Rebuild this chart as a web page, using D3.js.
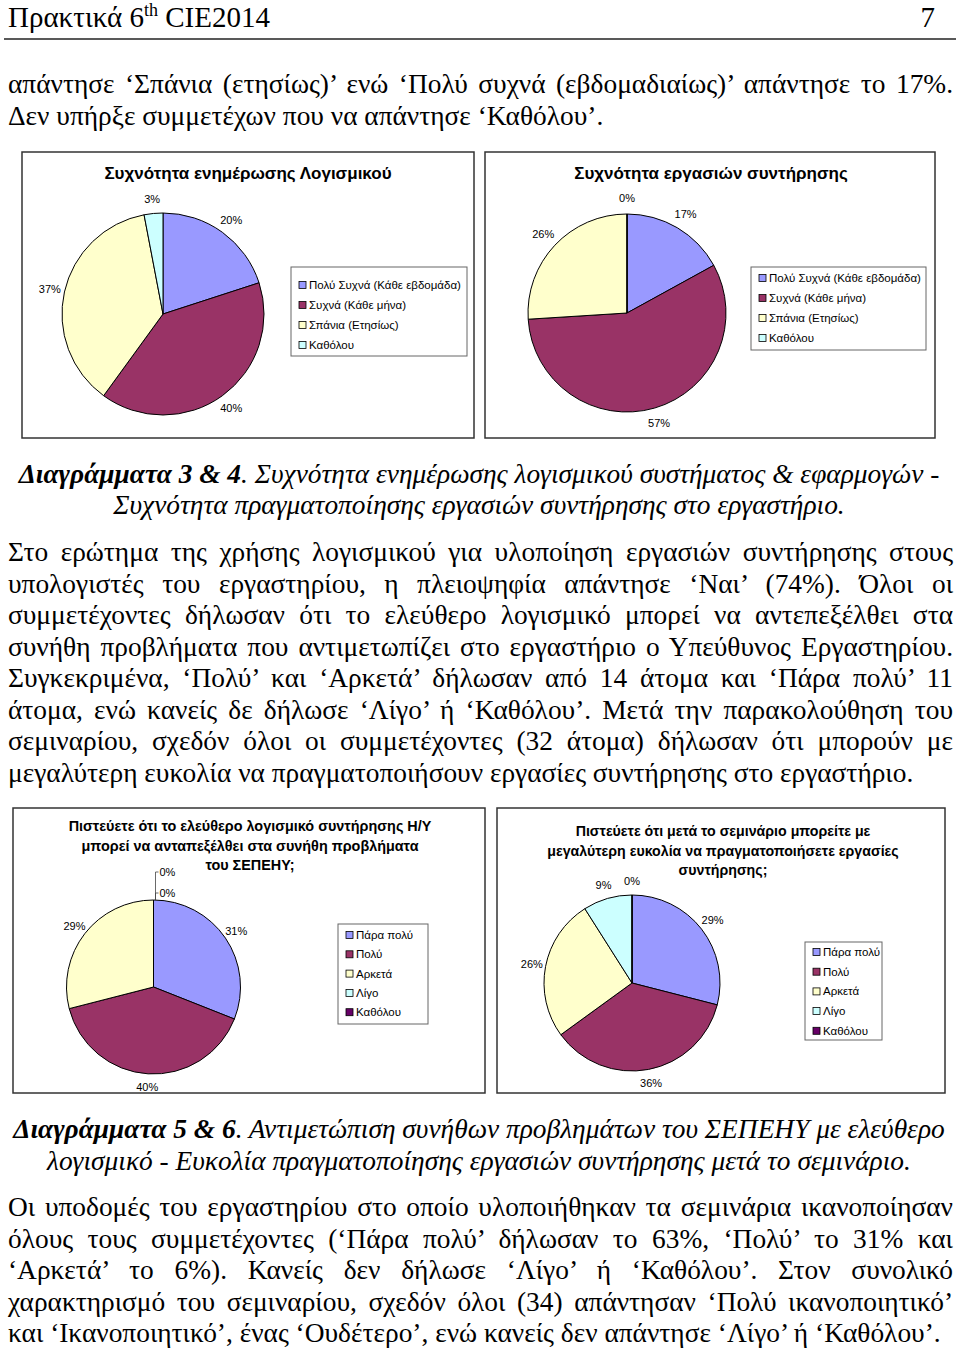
<!DOCTYPE html>
<html>
<head>
<meta charset="utf-8">
<script src="https://cdn.jsdelivr.net/npm/d3@7/dist/d3.min.js"></script>
<style>
  body { margin: 0; background: #fff; }
</style>
</head>
<body>
<script>
// chart data read from the page
const freqLabels = ['Πολύ Συχνά (Κάθε εβδομάδα)', 'Συχνά (Κάθε μήνα)', 'Σπάνια (Ετησίως)', 'Καθόλου'];
const updateValues = [20, 40, 37, 3];
const maintValues = [17, 57, 26, 0];
const agreeLabels = ['Πάρα πολύ', 'Πολύ', 'Αρκετά', 'Λίγο', 'Καθόλου'];
const freeSwValues = [31, 40, 29, 0, 0];
const easeValues = [29, 36, 26, 9, 0];
const sliceColors = ['#9999ff', '#993366', '#ffffcc', '#ccffff', '#660066'];

const serif = '"Liberation Serif", "Times New Roman", serif';
const sans = '"Liberation Sans", Arial, sans-serif';
const bodySize = 27.4;

const svg = d3.select('body').append('svg')
  .attr('width', 960)
  .attr('height', 1352)
  .style('display', 'block')
  .style('background', '#fff');

// ---- page header
const head = svg.append('text')
  .attr('x', 8).attr('y', 27)
  .style('font-family', serif).style('font-size', '29px');
head.append('tspan').text('Πρακτικά 6');
head.append('tspan').attr('dy', -11).style('font-size', '18px').text('th');
head.append('tspan').attr('dy', 11).text(' CIE2014');
svg.append('text')
  .attr('x', 935).attr('y', 27).attr('text-anchor', 'end')
  .style('font-family', serif).style('font-size', '29px').text('7');
svg.append('line')
  .attr('x1', 4).attr('x2', 956).attr('y1', 39).attr('y2', 39)
  .attr('stroke', '#222').attr('stroke-width', 1.6);

// ---- body text helpers
function bodyLine(str, y, justify) {
  const t = svg.append('text')
    .attr('x', 8).attr('y', y)
    .style('font-family', serif).style('font-size', bodySize + 'px')
    .text(str);
  if (justify) {
    const natural = t.node().getComputedTextLength();
    const gaps = str.split(' ').length - 1;
    const extra = (945 - natural) / gaps;
    if (extra >= 0) t.style('word-spacing', extra + 'px');
    else t.attr('textLength', 945).attr('lengthAdjust', 'spacingAndGlyphs');
  }
}

function caption(boldPart, rest, y) {
  const t = svg.append('text')
    .attr('x', 479).attr('y', y).attr('text-anchor', 'middle')
    .style('font-family', serif).style('font-size', bodySize + 'px').style('font-style', 'italic');
  if (boldPart) t.append('tspan').style('font-weight', 'bold').text(boldPart);
  t.append('tspan').text(rest);
}

function paragraph(lines, y0) {
  lines.forEach((l, i) => bodyLine(l, y0 + i * 31.5, i < lines.length - 1));
}

paragraph([
  'απάντησε ‘Σπάνια (ετησίως)’ ενώ ‘Πολύ συχνά (εβδομαδιαίως)’ απάντησε το 17%.',
  'Δεν υπήρξε συμμετέχων που να απάντησε ‘Καθόλου’.'
], 93);

caption('Διαγράμματα 3 & 4', '. Συχνότητα ενημέρωσης λογισμικού συστήματος & εφαρμογών -', 483);
caption('', 'Συχνότητα πραγματοποίησης εργασιών συντήρησης στο εργαστήριο.', 514);

paragraph([
  'Στο ερώτημα της χρήσης λογισμικού για υλοποίηση εργασιών συντήρησης στους',
  'υπολογιστές του εργαστηρίου, η πλειοψηφία απάντησε ‘Ναι’ (74%). Όλοι οι',
  'συμμετέχοντες δήλωσαν ότι το ελεύθερο λογισμικό μπορεί να αντεπεξέλθει στα',
  'συνήθη προβλήματα που αντιμετωπίζει στο εργαστήριο ο Υπεύθυνος Εργαστηρίου.',
  'Συγκεκριμένα, ‘Πολύ’ και ‘Αρκετά’ δήλωσαν από 14 άτομα και ‘Πάρα πολύ’ 11',
  'άτομα, ενώ κανείς δε δήλωσε ‘Λίγο’ ή ‘Καθόλου’. Μετά την παρακολούθηση του',
  'σεμιναρίου, σχεδόν όλοι οι συμμετέχοντες (32 άτομα) δήλωσαν ότι μπορούν με',
  'μεγαλύτερη ευκολία να πραγματοποιήσουν εργασίες συντήρησης στο εργαστήριο.'
], 561);

caption('Διαγράμματα 5 & 6', '. Αντιμετώπιση συνήθων προβλημάτων του ΣΕΠΕΗΥ με ελεύθερο', 1138);
caption('', 'λογισμικό - Ευκολία πραγματοποίησης εργασιών συντήρησης μετά το σεμινάριο.', 1170);

paragraph([
  'Οι υποδομές του εργαστηρίου στο οποίο υλοποιήθηκαν τα σεμινάρια ικανοποίησαν',
  'όλους τους συμμετέχοντες (‘Πάρα πολύ’ δήλωσαν το 63%, ‘Πολύ’ το 31% και',
  '‘Αρκετά’ το 6%). Κανείς δεν δήλωσε ‘Λίγο’ ή ‘Καθόλου’. Στον συνολικό',
  'χαρακτηρισμό του σεμιναρίου, σχεδόν όλοι (34) απάντησαν ‘Πολύ ικανοποιητικό’',
  'και ‘Ικανοποιητικό’, ένας ‘Ουδέτερο’, ενώ κανείς δεν απάντησε ‘Λίγο’ ή ‘Καθόλου’.'
], 1216);

// ---- pie charts
const charts = [
  {
    values: updateValues, labels: freqLabels,
    frame: [22, 152, 474, 438], cx: 163, cy: 314, r: 101, lr: 15,
    title: ['Συχνότητα ενημέρωσης Λογισμικού'], titleSize: 17, titleY: 179, titleX: 248,
    legend: { x: 291, y: 267, w: 176, h: 89, row0: 285, step: 20 }
  },
  {
    values: maintValues, labels: freqLabels,
    frame: [485, 152, 935, 438], cx: 627, cy: 313, r: 99, lr: 16,
    title: ['Συχνότητα εργασιών συντήρησης'], titleSize: 17, titleY: 179, titleX: 711,
    legend: { x: 751, y: 267, w: 175, h: 83, row0: 278, step: 20 }
  },
  {
    values: freeSwValues, labels: agreeLabels,
    frame: [13, 808, 485, 1093], cx: 153.5, cy: 987, r: 87, lr: 13, leaderZeros: true,
    title: ['Πιστεύετε ότι το ελεύθερο λογισμικό συντήρησης Η/Υ',
            'μπορεί να ανταπεξέλθει στα συνήθη προβλήματα',
            'του ΣΕΠΕΗΥ;'],
    titleSize: 14.4, titleY: 831, titleX: 250,
    legend: { x: 338, y: 924, w: 90, h: 100, row0: 935, step: 19.3 }
  },
  {
    values: easeValues, labels: agreeLabels,
    frame: [497, 808, 945, 1093], cx: 632, cy: 983, r: 88, lr: 14,
    title: ['Πιστεύετε ότι μετά το σεμινάριο μπορείτε με',
            'μεγαλύτερη ευκολία να πραγματοποιήσετε εργασίες',
            'συντήρησης;'],
    titleSize: 14.2, titleY: 836, titleX: 723,
    legend: { x: 805, y: 942, w: 77, h: 98, row0: 952, step: 19.7 }
  }
];

const pie = d3.pie().sort(null).value(d => d);

charts.forEach(c => {
  const g = svg.append('g');
  const [x0, y0, x1, y1] = c.frame;

  g.append('rect')
    .attr('x', x0).attr('y', y0).attr('width', x1 - x0).attr('height', y1 - y0)
    .attr('fill', '#fff').attr('stroke', '#333').attr('stroke-width', 1.5);

  c.title.forEach((line, i) => {
    g.append('text')
      .attr('x', c.titleX).attr('y', c.titleY + i * 19.5)
      .attr('text-anchor', 'middle')
      .style('font-family', sans).style('font-weight', 'bold')
      .style('font-size', c.titleSize + 'px')
      .text(line);
  });

  const arcs = pie(c.values);
  const arc = d3.arc().innerRadius(0).outerRadius(c.r);
  const labelArc = d3.arc().innerRadius(c.r + c.lr).outerRadius(c.r + c.lr);

  const pg = g.append('g').attr('transform', `translate(${c.cx},${c.cy})`);
  pg.selectAll('path')
    .data(arcs)
    .join('path')
    .attr('d', arc)
    .attr('fill', (d, i) => sliceColors[i])
    .attr('stroke', '#000')
    .attr('stroke-width', 1);

  let zeroCount = 0;
  arcs.forEach(d => {
    let x, y, anchor = 'middle';
    if (c.leaderZeros && d.data === 0) {
      // stacked labels with a leader line above the pie
      y = -c.r - 7 - zeroCount * 21;
      x = 6;
      anchor = 'start';
      pg.append('path')
        .attr('d', `M2,${-c.r} V${y} H5`)
        .attr('fill', 'none').attr('stroke', '#444').attr('stroke-width', 0.8);
      zeroCount++;
    } else {
      [x, y] = labelArc.centroid(d);
    }
    pg.append('text')
      .attr('x', x).attr('y', y)
      .attr('text-anchor', anchor)
      .attr('dominant-baseline', 'central')
      .style('font-family', sans).style('font-size', '11px')
      .text(`${d.data}%`);
  });

  const L = c.legend;
  const lg = g.append('g');
  lg.append('rect')
    .attr('x', L.x).attr('y', L.y).attr('width', L.w).attr('height', L.h)
    .attr('fill', '#fff').attr('stroke', '#666').attr('stroke-width', 1);
  c.labels.forEach((lab, i) => {
    const yy = L.row0 + i * L.step;
    lg.append('rect')
      .attr('x', L.x + 8).attr('y', yy - 3.5).attr('width', 7).attr('height', 7)
      .attr('fill', sliceColors[i]).attr('stroke', '#000').attr('stroke-width', 0.8);
    lg.append('text')
      .attr('x', L.x + 18).attr('y', yy)
      .attr('dominant-baseline', 'central')
      .style('font-family', sans).style('font-size', '11.5px')
      .text(lab);
  });
});
</script>
</body>
</html>
